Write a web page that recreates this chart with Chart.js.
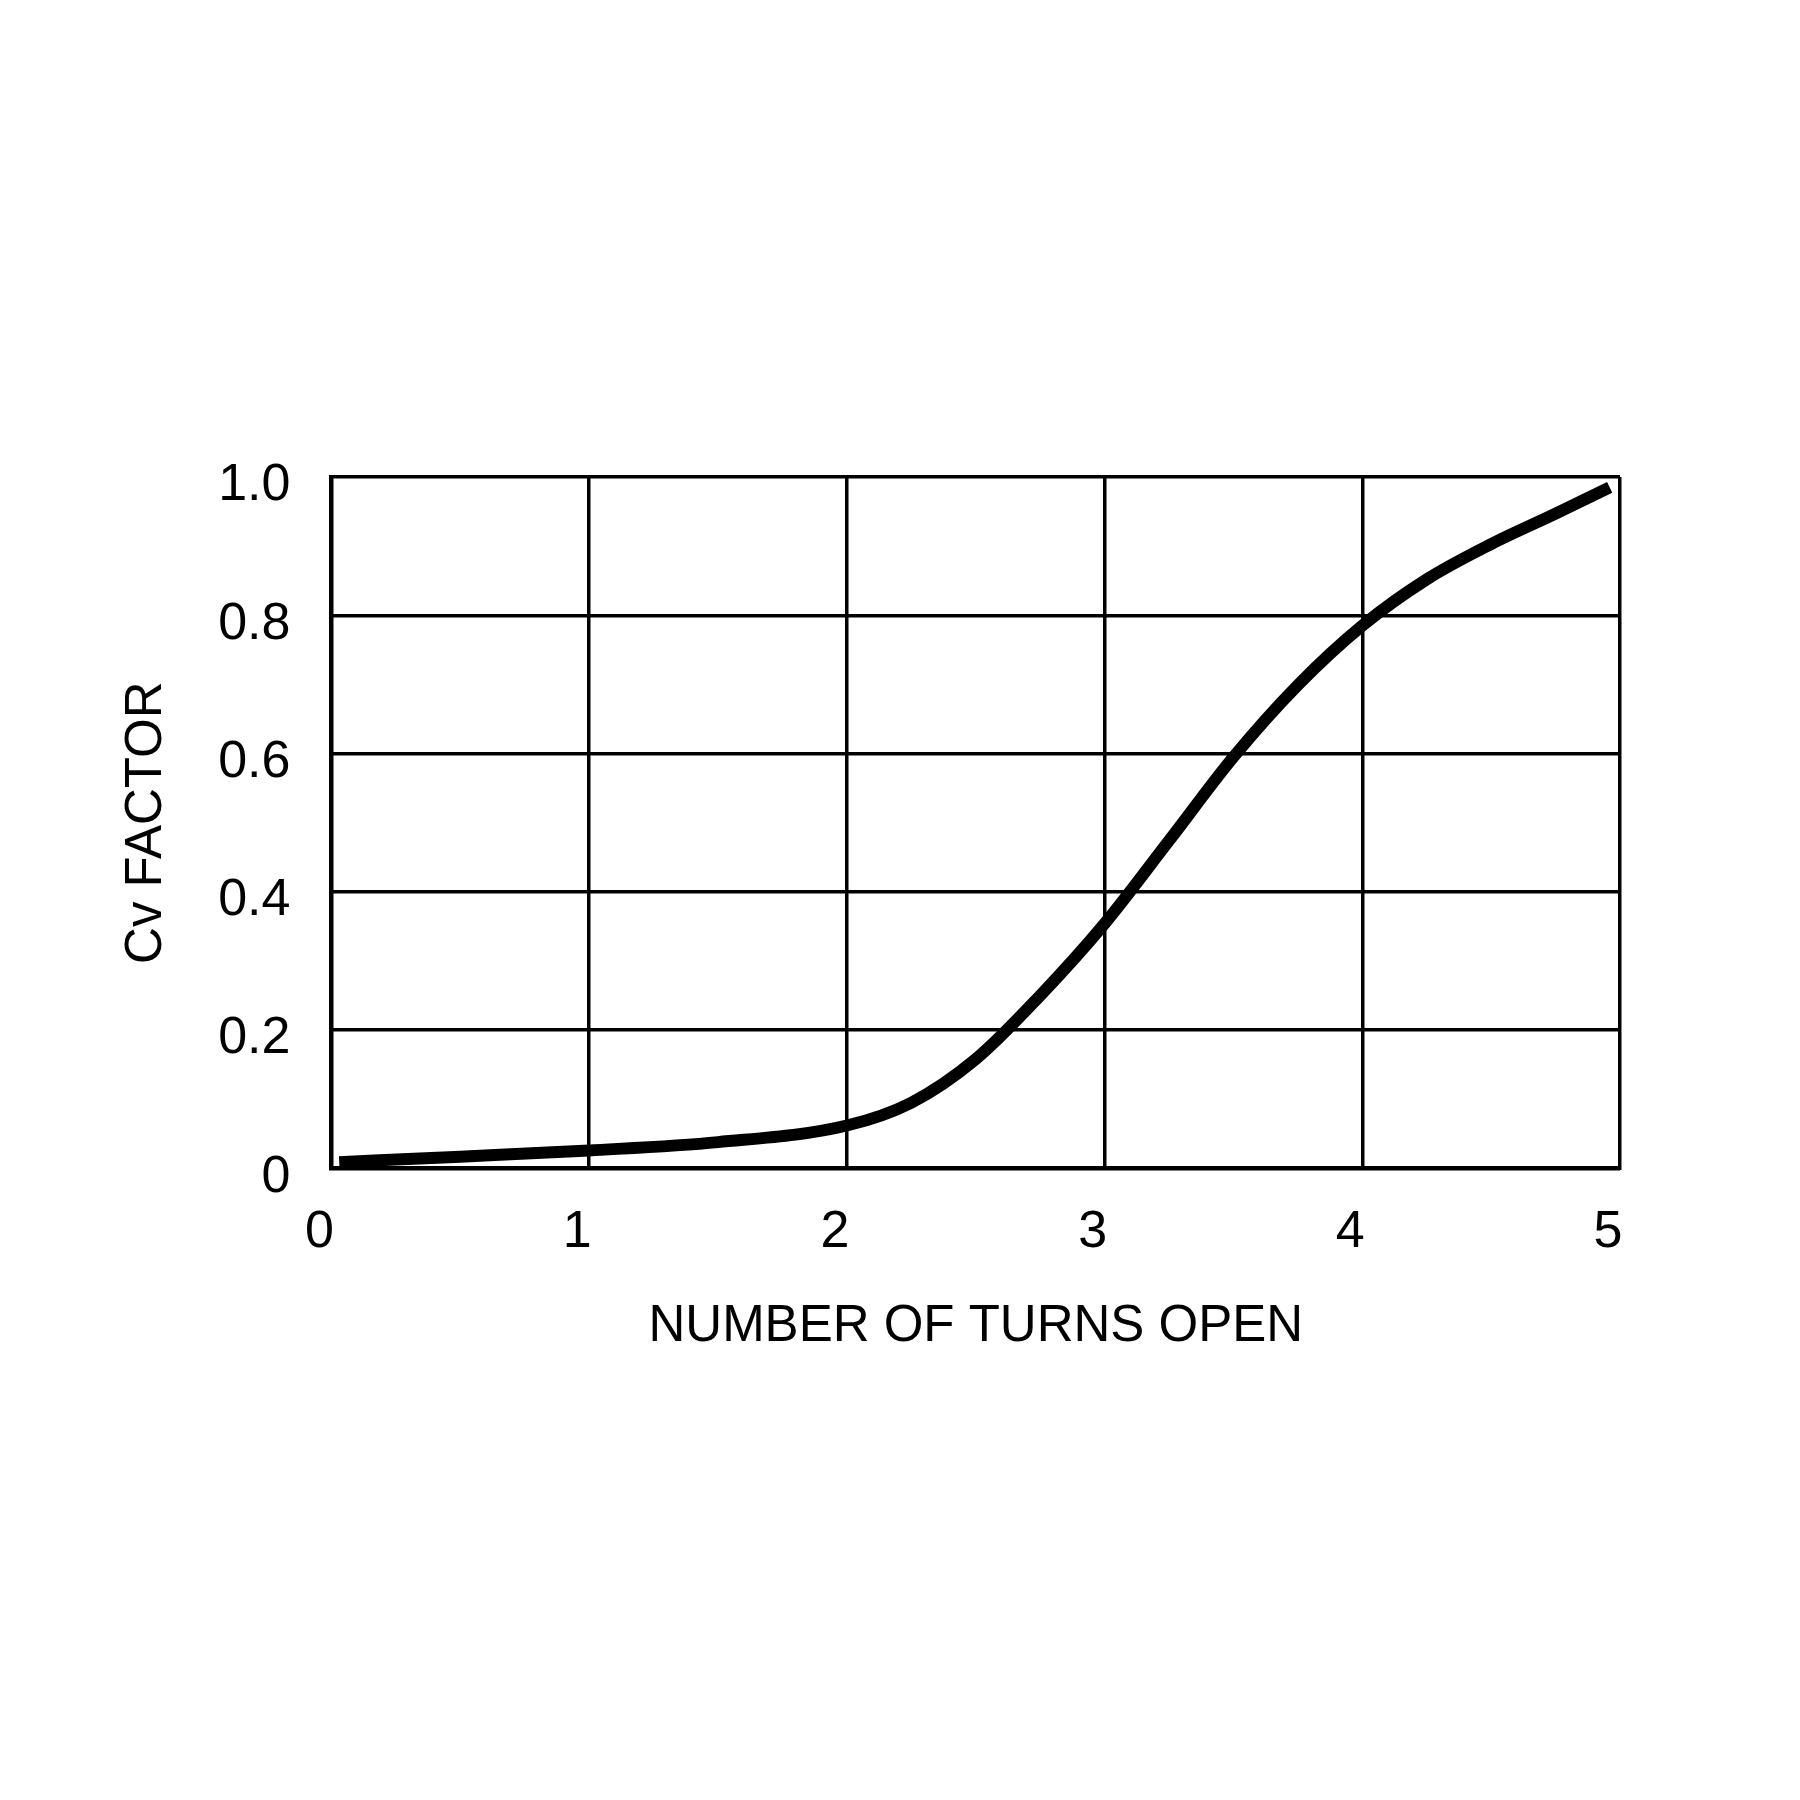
<!DOCTYPE html>
<html>
<head>
<meta charset="utf-8">
<script src="https://cdn.jsdelivr.net/npm/chart.js@4/dist/chart.umd.min.js"></script>
<style>
  html, body { margin: 0; padding: 0; background: #ffffff; }
  #wrap { width: 1800px; height: 1800px; position: relative; }
</style>
</head>
<body>
<div id="wrap"><canvas id="c" width="1800" height="1800"></canvas></div>
<script>
// Data
const turnsOpen = [0.03, 0.5, 1.0, 1.5, 2.0, 2.25, 2.5, 2.75, 3.0, 3.25, 3.5, 3.75, 4.0, 4.25, 4.5, 4.75, 4.96];
const cvFactor  = [0.009, 0.017, 0.026, 0.038, 0.062, 0.095, 0.158, 0.25, 0.354, 0.474, 0.595, 0.699, 0.785, 0.852, 0.903, 0.947, 0.985];
const xTickValues = [0, 1, 2, 3, 4, 5];
const xTickLabels = ["0", "1", "2", "3", "4", "5"];
const yTickValues = [0, 0.2, 0.4, 0.6, 0.8, 1.0];
const yTickLabels = ["0", "0.2", "0.4", "0.6", "0.8", "1.0"];
const xTitle = "NUMBER OF TURNS OPEN";
const yTitle = "Cv FACTOR";

const FONT = "'Liberation Sans', Arial, Helvetica, sans-serif";

const points = turnsOpen.map((x, i) => ({ x: x, y: cvFactor[i] }));

new Chart(document.getElementById('c'), {
  type: 'line',
  data: {
    datasets: [{
      data: points,
      borderColor: '#000000',
      borderWidth: 12,
      borderCapStyle: 'butt',
      pointRadius: 0,
      fill: false,
      cubicInterpolationMode: 'monotone'
    }]
  },
  options: {
    responsive: false,
    animation: false,
    devicePixelRatio: 1,
    layout: { padding: { left: 112, right: 180, top: 477, bottom: 438 } },
    plugins: { legend: { display: false }, tooltip: { enabled: false } },
    scales: {
      x: {
        type: 'linear',
        min: 0, max: 5,
        afterBuildTicks: (axis) => { axis.ticks = xTickValues.map(v => ({ value: v })); },
        ticks: {
          callback: (v) => { const i = xTickValues.indexOf(v); return i >= 0 ? xTickLabels[i] : ''; },
          color: '#000000',
          font: { family: FONT, size: 52 },
          padding: 33,
          labelOffset: -12,
          maxRotation: 0
        },
        grid: { color: '#000000', lineWidth: 3.5, drawTicks: false },
        border: { color: '#000000', width: 4 },
        title: {
          display: true,
          text: xTitle,
          color: '#000000',
          font: { family: FONT, size: 51 },
          padding: { top: 0, bottom: 4 }
        }
      },
      y: {
        type: 'linear',
        min: 0, max: 1,
        afterBuildTicks: (axis) => { axis.ticks = yTickValues.map(v => ({ value: v })); },
        ticks: {
          callback: (v) => { const i = yTickValues.findIndex(t => Math.abs(t - v) < 1e-9); return i >= 0 ? yTickLabels[i] : ''; },
          color: '#000000',
          font: { family: FONT, size: 52 },
          padding: 41,
          labelOffset: 9
        },
        grid: { color: '#000000', lineWidth: 3.5, drawTicks: false },
        border: { color: '#000000', width: 4 },
        title: {
          display: true,
          text: yTitle,
          color: '#000000',
          font: { family: FONT, size: 51 },
          padding: { top: 4, bottom: 0 }
        }
      }
    }
  }
});
</script>
</body>
</html>
